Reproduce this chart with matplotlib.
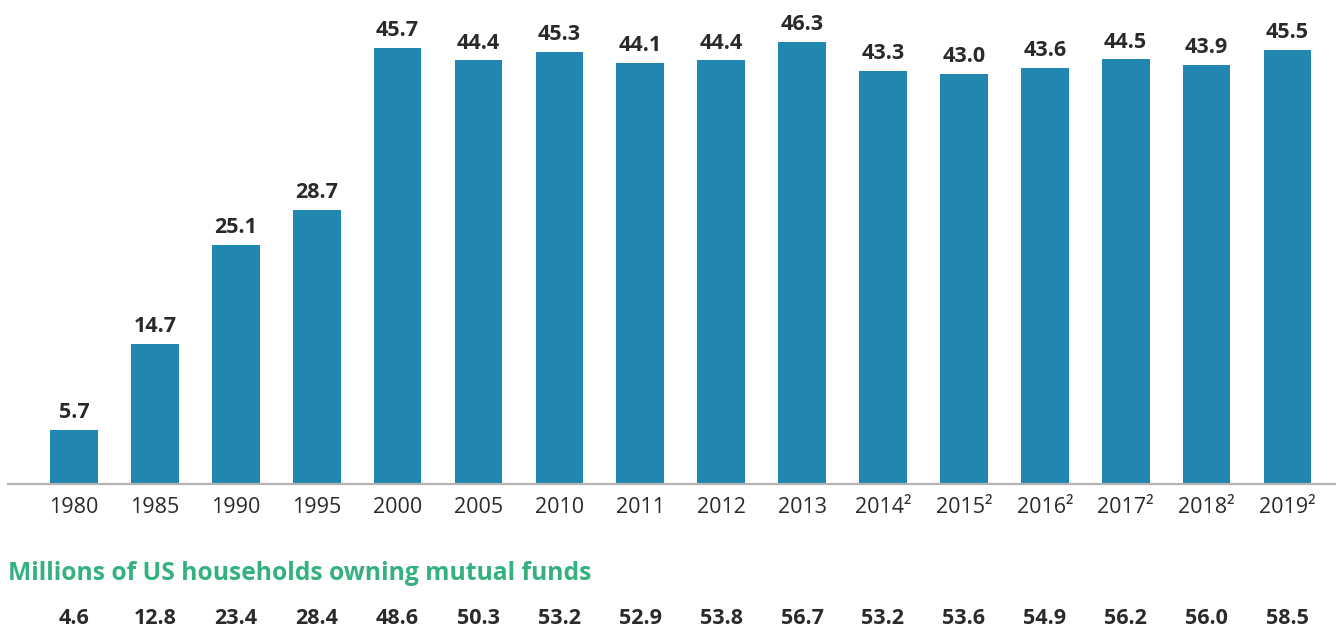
import numpy as np
import matplotlib.pyplot as plt

plt.rcParams['font.family'] = ['Open Sans', 'DejaVu Sans']

anos = ['1980', '1985', '1990', '1995', '2000', '2005', '2010', '2011', '2012', '2013',
        '2014²', '2015²', '2016²', '2017²', '2018²', '2019²']
percentual = [5.7, 14.7, 25.1, 28.7, 45.7, 44.4, 45.3, 44.1, 44.4, 46.3,
              43.3, 43.0, 43.6, 44.5, 43.9, 45.5]
domicilios = [4.6, 12.8, 23.4, 28.4, 48.6, 50.3, 53.2, 52.9, 53.8, 56.7,
              53.2, 53.6, 54.9, 56.2, 56.0, 58.5]

cor_barra = '#2187b0'
cor_texto = '#2a2a2a'
cor_verde = '#35b07f'

fig = plt.figure(figsize=(13.36, 6.26), dpi=100)
ax = fig.add_axes([8 / 1336, 0.2268, 1 - 8 / 1336, 477 / 626])

x = np.arange(len(anos))
barras = ax.bar(x, percentual, width=0.59, color=cor_barra)

# rotulos acima das barras
for xi, v in zip(x, percentual):
    ax.annotate(f'{v:.1f}', (xi, v), xytext=(0, 5), textcoords='offset points',
                ha='center', va='bottom', fontsize=15.5, fontweight='bold', color=cor_texto)

ax.set_xlim(-0.816, 15.6)
ax.set_ylim(0, 50)
ax.set_xticks(x)
ax.set_xticklabels(anos, fontsize=15.5, color=cor_texto)
ax.tick_params(axis='x', length=0, pad=9)
ax.set_yticks([])
for lado in ['top', 'right', 'left']:
    ax.spines[lado].set_visible(False)
ax.spines['bottom'].set_color('#b3b3b3')
ax.spines['bottom'].set_linewidth(1.6)

# linha de baixo: domicilios
ax.text(0, -0.188, 'Millions of US households owning mutual funds', transform=ax.transAxes,
        ha='left', va='center', fontsize=17.7, fontweight='bold', color=cor_verde)
trans = ax.get_xaxis_transform()
for xi, v in zip(x, domicilios):
    ax.text(xi, -0.281, f'{v:.1f}', transform=trans, ha='center', va='center',
            fontsize=15.5, fontweight='bold', color=cor_texto)

fig.savefig('out.png', dpi=100)
